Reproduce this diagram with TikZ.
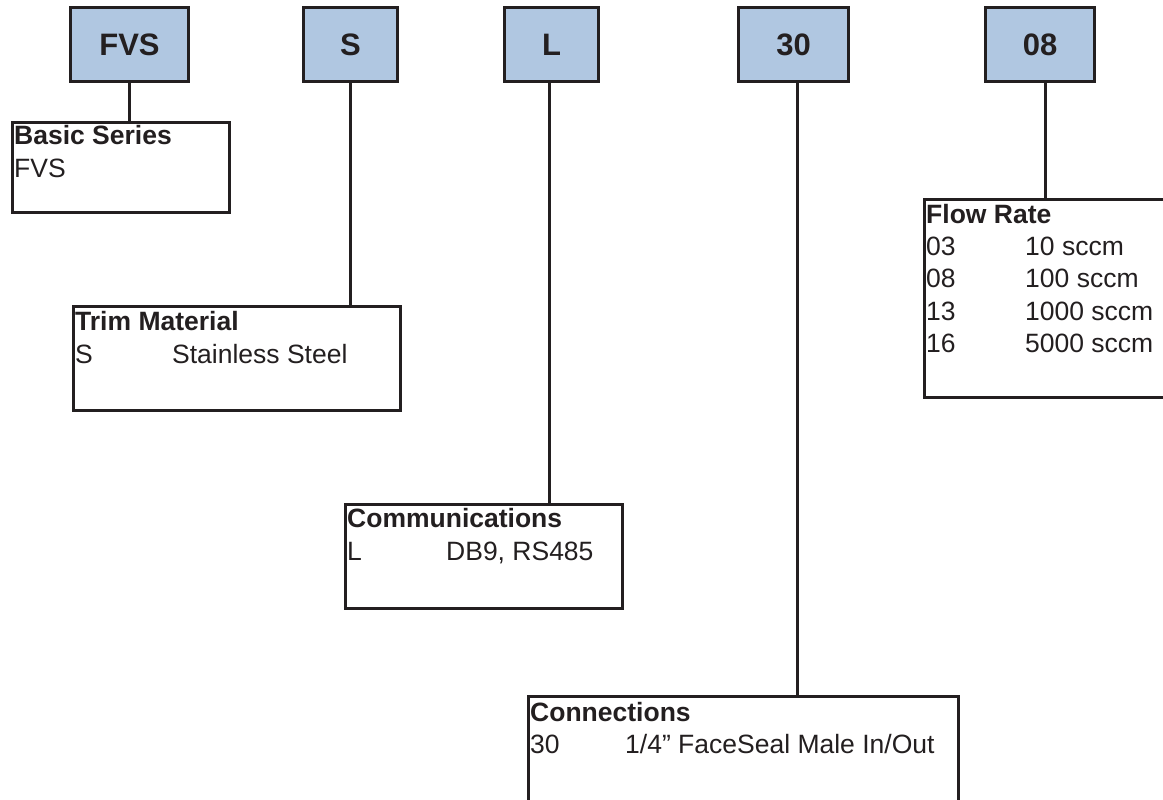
\documentclass[tikz,border=0pt]{standalone}
\usepackage{fontspec}
\setmainfont{Liberation Sans}
\definecolor{boxblue}{HTML}{B0C7E1}
\definecolor{ink}{HTML}{231F20}
\begin{document}
\begin{tikzpicture}[x=1pt,y=-1pt,
  codebox/.style={draw=ink,line width=3pt,fill=boxblue,anchor=north west,inner sep=0pt,
    font=\fontsize{31}{31}\selectfont\bfseries,text=ink},
  infobox/.style={draw=ink,line width=2.6pt,fill=white,anchor=north west,inner sep=0pt},
  ttl/.style={anchor=base west,inner sep=0pt,font=\fontsize{26.5}{26.5}\selectfont\bfseries,text=ink},
  txt/.style={anchor=base west,inner sep=0pt,font=\fontsize{26.5}{26.5}\selectfont,text=ink},
  link/.style={draw=ink,line width=3pt}]
\useasboundingbox (0,0) rectangle (1163,800);
\clip (0,0) rectangle (1163,800);
% top code boxes
\node[codebox,minimum width=118pt,minimum height=74pt] (fvs) at (69,6) {FVS};
\node[codebox,minimum width=94pt,minimum height=74pt] (s) at (302,6) {S};
\node[codebox,minimum width=94pt,minimum height=74pt] (l) at (503,6) {L};
\node[codebox,minimum width=110pt,minimum height=74pt] (t30) at (737,6) {30};
\node[codebox,minimum width=109pt,minimum height=74pt] (t08) at (984,6) {08};
% info boxes
\node[infobox,minimum width=217pt,minimum height=90pt] (basic) at (11,121) {};
\node[infobox,minimum width=327pt,minimum height=104pt] (trim) at (72,305) {};
\node[infobox,minimum width=277pt,minimum height=104pt] (comm) at (344,503) {};
\node[infobox,minimum width=430pt,minimum height=120pt] (conn) at (527,695) {};
\node[infobox,minimum width=260pt,minimum height=198pt] (flow) at (923,198) {};
% connectors
\draw[link] (fvs.south) -- (fvs.south |- basic.north);
\draw[link] ([xshift=0pt]s.south) -- (s.south |- trim.north);
\draw[link] ([xshift=-2pt]l.south) -- ([xshift=-2pt]l.south |- comm.north);
\draw[link] ([xshift=4pt]t30.south) -- ([xshift=4pt]t30.south |- conn.north);
\draw[link] ([xshift=5pt]t08.south) -- ([xshift=5pt]t08.south |- flow.north);
% texts
\node[ttl] (basicT) at (14,144) {Basic Series};
\node[txt] (basicA) at (14,177) {FVS};
\node[ttl] (trimT) at (75,330) {Trim Material};
\node[txt] (trimA) at (75,363) {S};
\node[txt] (trimB) at (172,363) {Stainless Steel};
\node[ttl] (commT) at (347,527) {Communications};
\node[txt] (commA) at (347,560) {L};
\node[txt] (commB) at (446,560) {DB9, RS485};
\node[ttl] (connT) at (530,721) {Connections};
\node[txt] (connA) at (530,753) {30};
\node[txt] (connB) at (625,753) {1/4\char"201D\ FaceSeal Male In/Out};
\node[ttl] (flowT) at (926,223) {Flow Rate};
\node[txt] (f1a) at (926,255) {03};
\node[txt] (f1b) at (1025,255) {10 sccm};
\node[txt] (f2a) at (926,287) {08};
\node[txt] (f2b) at (1025,287) {100 sccm};
\node[txt] (f3a) at (926,320) {13};
\node[txt] (f3b) at (1025,320) {1000 sccm};
\node[txt] (f4a) at (926,352) {16};
\node[txt] (f4b) at (1025,352) {5000 sccm};
\end{tikzpicture}
\end{document}
